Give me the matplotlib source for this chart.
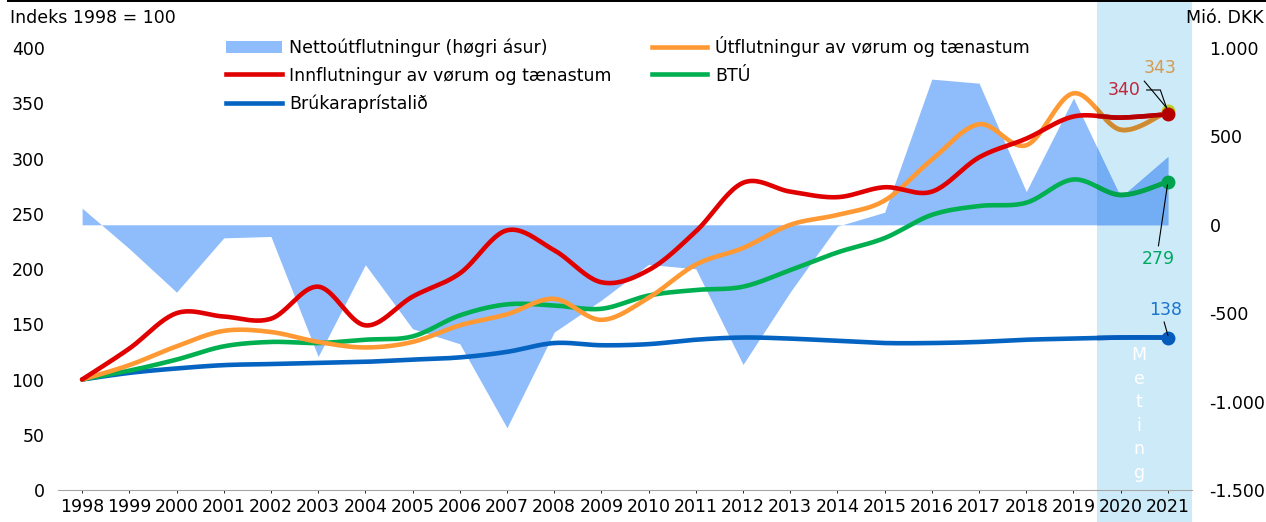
import numpy as np
import matplotlib.pyplot as plt
import matplotlib.transforms as mtransforms
from matplotlib.patches import Rectangle, Patch
from matplotlib.lines import Line2D
from matplotlib.colors import to_rgb

plt.rcParams['font.family'] = ['DejaVu Sans']
plt.rcParams['font.size'] = 12.5

# data
years = [str(y) for y in range(1998, 2022)]
netto = [94, -135, -381, -74, -66, -745, -226, -588, -673, -1148, -607, -426,
         -224, -249, -790, -380, -8, 71, 824, 801, 188, 717, 156, 386]
innflutningur = [100, 128, 160, 157, 155, 184, 149, 175, 196, 235, 217, 188,
                 199, 234, 278, 270, 265, 274, 270, 301, 318, 338, 337, 340]
utflutningur = [100, 113, 130, 144, 143, 134, 129, 134, 149, 159, 173, 154,
                174, 204, 219, 240, 249, 262, 299, 331, 312, 359, 326, 343]
btu = [100, 108, 118, 130, 134, 133, 136, 139, 158, 168, 167, 164,
       176, 181, 184, 199, 215, 228, 249, 257, 260, 281, 267, 279]
prisir = [100, 106, 110, 113, 114, 115, 116, 118, 120, 125, 133, 131,
          132, 136, 138, 137, 135, 133, 133, 134, 136, 137, 138, 138]

left_ticks = [0, 50, 100, 150, 200, 250, 300, 350, 400]
right_ticks = [-1500, -1000, -500, 0, 500, 1000]
right_labels = ['-1.500', '-1.000', '-500', '0', '500', '1.000']

c_area = '#8fbcfa'
c_red = '#e00000'
c_orange = '#ff9933'
c_green = '#00b050'
c_blue = '#0563c1'
c_shade = '#cdeaf8'


def shaded(c):
    # multiply colour with the forecast band colour
    return tuple(a * b for a, b in zip(to_rgb(c), to_rgb(c_shade)))


def smooth(y, n=24):
    # Excel style smoothed line (cardinal bezier)
    y = np.asarray(y, float)
    x = np.arange(len(y), dtype=float)
    p = np.column_stack([x, y])
    pts = []
    for i in range(len(p) - 1):
        p0 = p[i - 1] if i > 0 else p[i]
        p3 = p[i + 2] if i + 2 < len(p) else p[i + 1]
        c1 = p[i] + (p[i + 1] - p0) / 6
        c2 = p[i + 1] - (p3 - p[i]) / 6
        t = np.linspace(0, 1, n)[:, None]
        seg = ((1 - t) ** 3) * p[i] + 3 * ((1 - t) ** 2) * t * c1 + 3 * (1 - t) * t ** 2 * c2 + t ** 3 * p[i + 1]
        pts.append(seg if i == 0 else seg[1:])
    pts = np.vstack(pts)
    return pts[:, 0], pts[:, 1]


fig = plt.figure(figsize=(12.66, 5.22), dpi=100)
ax2 = fig.add_axes([58.5 / 1266, 1 - 490 / 522, 1133 / 1266, 442 / 522])
ax = ax2.twinx()
ax.yaxis.tick_left()
ax2.yaxis.tick_right()
ax.set_zorder(ax2.get_zorder() + 1)
ax.patch.set_visible(False)
ax2.patch.set_visible(False)

x = np.arange(len(years))
fband = (21.5, 23.5)

# forecast band across the whole figure height
blend_fig = mtransforms.blended_transform_factory(ax.transData, fig.transFigure)
ax.set_xlim(-0.5, 23.5)
ax2.set_xlim(-0.5, 23.5)
band = Rectangle((fband[0], 0), fband[1] - fband[0], 1, transform=blend_fig,
                 facecolor=c_shade, edgecolor='none', zorder=-5)
fig.add_artist(band)

# area on right axis
ax2.fill_between(x, netto, 0, color=c_area, lw=0, zorder=1)
clip2 = Rectangle((fband[0], 0), 2, 1,
                  transform=mtransforms.blended_transform_factory(ax2.transData, ax2.transAxes))
fb = ax2.fill_between(x, netto, 0, color=shaded(c_area), lw=0, zorder=2)
fb.set_clip_path(clip2)
ax2.set_ylim(-1500, 1000)

clip1 = Rectangle((fband[0], -1), 2, 3,
                  transform=mtransforms.blended_transform_factory(ax.transData, ax.transAxes))
series = [(prisir, c_blue), (btu, c_green), (utflutningur, c_orange), (innflutningur, c_red)]
for vals, col in series:
    sx, sy = smooth(vals)
    ax.plot(sx, sy, color=col, lw=3.3, solid_capstyle='round', zorder=3)
    ln, = ax.plot(sx, sy, color=shaded(col), lw=3.3, solid_capstyle='round', zorder=4)
    ln.set_clip_path(clip1)
    mcol = shaded('#e8e020') if col == c_orange else shaded(col)
    ax.plot(x[-1], vals[-1], 'o', ms=10, color=mcol, mec='none', zorder=5, clip_on=False)

ax.set_ylim(0, 400)

# data labels
ax.text(22.84, 382, '343', color='#d69a50', ha='center', va='center')
ax.text(22.08, 362, '340', color='#c0283a', ha='center', va='center')
ax.text(22.8, 209, '279', color='#00a860', ha='center', va='center')
ax.text(22.95, 163, '138', color='#1a75cf', ha='center', va='center')
ax.plot([22.5, 22.97], [370, 346], color='black', lw=0.8, zorder=6)
ax.plot([22.55, 22.84, 22.97], [362, 362, 346], color='black', lw=0.8, zorder=6)
ax.plot([22.8, 22.99], [221, 276], color='black', lw=0.8, zorder=6)
ax.plot([22.92, 23.0], [152, 140], color='black', lw=0.8, zorder=6)

# vertical "Meting"
for i, ch in enumerate('Meting'):
    ax.text(22.39, (490 - (355 + 23.6 * i)) / 1.105, ch, color='white',
            ha='center', va='center', zorder=6)

# axes styling
for a in (ax, ax2):
    for s in a.spines.values():
        s.set_visible(False)
ax.spines['bottom'].set_visible(True)
ax.spines['bottom'].set_color('#a6a6a6')
ax.set_xticks(np.arange(-0.5, 24, 1))
ax.set_xticklabels([])
ax.set_xticks(x, minor=True)
ax.set_xticklabels(years, minor=True)
ax.tick_params(axis='x', which='major', length=5, color='#a6a6a6', direction='out')
ax.tick_params(axis='x', which='minor', length=0, pad=13)
ax2.tick_params(axis='x', length=0, labelbottom=False)

ax.set_yticks(left_ticks)
ax.tick_params(axis='y', length=0, pad=10)
ax2.set_yticks(right_ticks)
ax2.set_yticklabels(right_labels)
ax2.tick_params(axis='y', length=0, pad=13)

fig.text(10 / 1266, 1 - 18 / 522, 'Indeks 1998 = 100', ha='left', va='center')
fig.text(1264 / 1266, 1 - 18 / 522, 'Mió. DKK', ha='right', va='center')

handles = [Patch(facecolor=c_area, edgecolor='none'),
           Line2D([], [], color=c_red, lw=3.3),
           Line2D([], [], color=c_blue, lw=3.3),
           Line2D([], [], color=c_orange, lw=3.3),
           Line2D([], [], color=c_green, lw=3.3)]
labels = ['Nettoútflutningur (høgri ásur)', 'Innflutningur av vørum og tænastum',
          'Brúkaraprístalið', 'Útflutningur av vørum og tænastum', 'BTÚ']
ax.legend(handles, labels, ncol=2, loc='upper left', frameon=False,
          bbox_to_anchor=(226 / 1266, 1 - 36 / 522), bbox_transform=fig.transFigure,
          borderaxespad=0, borderpad=0, handlelength=3.2, handletextpad=0.45,
          labelspacing=0.55, columnspacing=2.3, handleheight=0.7)

fig.add_artist(Rectangle((7 / 1266, 1 - 2 / 522), 1, 2 / 522, transform=fig.transFigure,
                         facecolor='black', edgecolor='none', zorder=10))

fig.savefig('out.png', dpi=100)
